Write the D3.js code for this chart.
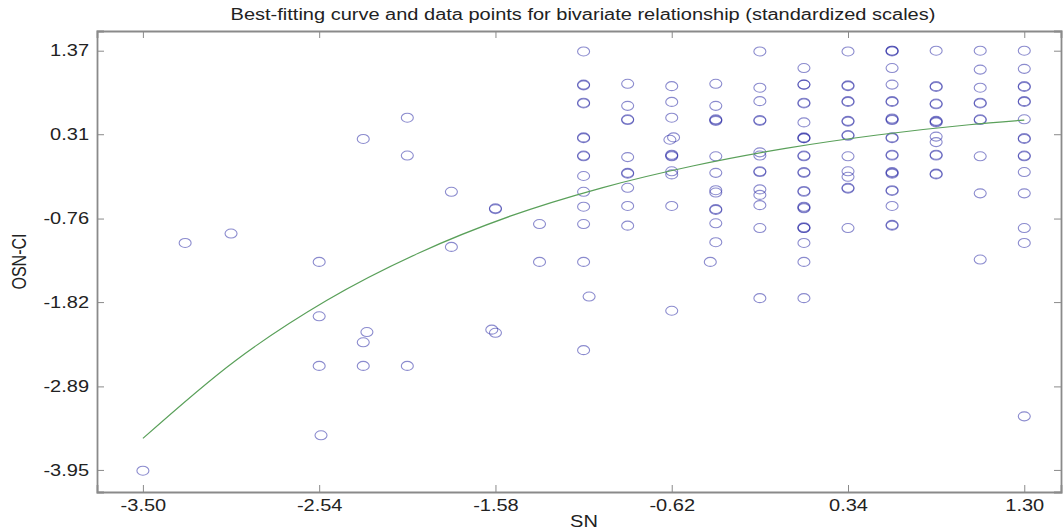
<!DOCTYPE html>
<html>
<head>
<meta charset="utf-8">
<script src="https://cdn.jsdelivr.net/npm/d3@7"></script>
<style>
  body { margin: 0; background: #fff; }
  svg { display: block; font-family: "Liberation Sans", Arial, sans-serif; }
  .axis path, .axis line { stroke: #8a8a8a; }
  .axis text { fill: #222; font-size: 16px; }
  .wide { transform-box: fill-box; transform-origin: center; transform: scaleX(1.25); }
</style>
</head>
<body>
<div id="chart"></div>
<script>
// tick values shown on the axes
const xTicks = [-3.50, -2.54, -1.58, -0.62, 0.34, 1.30]
const yTicks = [1.37, 0.31, -0.76, -1.82, -2.89, -3.95]

// data points [SN, OSN-CI], read column by column
const points = [
  [-3.50, -3.96],
  [-3.27, -1.07],
  [-3.02, -0.95],
  [-2.54, -1.31], [-2.54, -2.00], [-2.54, -2.63], [-2.53, -3.51],
  [-2.30, 0.25], [-2.28, -2.20], [-2.30, -2.33], [-2.30, -2.63],
  [-2.06, 0.52], [-2.06, 0.04], [-2.06, -2.63],
  [-1.82, -0.42], [-1.82, -1.12],
  [-1.58, -0.63], [-1.58, -0.64], [-1.60, -2.17], [-1.58, -2.21],
  [-1.34, -0.83], [-1.34, -1.31],
  [-1.10, 1.36], [-1.10, 0.94], [-1.10, 0.93], [-1.10, 0.71], [-1.10, 0.70],
  [-1.10, 0.27], [-1.10, 0.26], [-1.10, 0.04], [-1.10, 0.03], [-1.10, -0.22],
  [-1.10, -0.42], [-1.10, -0.61], [-1.10, -0.83], [-1.10, -1.31], [-1.07, -1.75],
  [-1.10, -2.43],
  [-0.86, 0.95], [-0.86, 0.67], [-0.86, 0.50], [-0.86, 0.49], [-0.86, 0.02],
  [-0.86, -0.19], [-0.86, -0.18], [-0.86, -0.37], [-0.86, -0.60], [-0.86, -0.85],
  [-0.62, 0.92], [-0.62, 0.72], [-0.62, 0.52], [-0.63, 0.24], [-0.61, 0.27],
  [-0.62, 0.04], [-0.62, 0.03], [-0.62, 0.05], [-0.62, -0.16], [-0.62, -0.20],
  [-0.62, -0.60], [-0.62, -1.93],
  [-0.38, 0.95], [-0.38, 0.67], [-0.38, 0.49], [-0.38, 0.48], [-0.38, 0.50],
  [-0.38, 0.03], [-0.38, -0.18], [-0.38, -0.40], [-0.38, -0.43], [-0.38, -0.64],
  [-0.38, -0.65], [-0.38, -0.82], [-0.38, -1.06], [-0.41, -1.31],
  [-0.14, 1.36], [-0.14, 0.90], [-0.14, 0.73], [-0.14, 0.49], [-0.14, 0.48],
  [-0.14, 0.08], [-0.14, 0.04], [-0.14, -0.16], [-0.14, -0.17], [-0.14, -0.39],
  [-0.14, -0.46], [-0.14, -0.59], [-0.14, -0.88], [-0.14, -1.77],
  [0.10, 1.15], [0.10, 0.94], [0.10, 0.94], [0.10, 0.71], [0.10, 0.70],
  [0.10, 0.46], [0.10, 0.26], [0.10, 0.26], [0.10, 0.27], [0.10, 0.04],
  [0.10, 0.03], [0.10, -0.17], [0.10, -0.18], [0.10, -0.41], [0.10, -0.42],
  [0.10, -0.63], [0.10, -0.62], [0.10, -0.61], [0.10, -0.88], [0.10, -0.88],
  [0.10, -0.87], [0.10, -1.07], [0.10, -1.31], [0.10, -1.77],
  [0.34, 1.36], [0.34, 0.93], [0.34, 0.92], [0.34, 0.73], [0.34, 0.72],
  [0.34, 0.47], [0.34, 0.48], [0.34, 0.30], [0.34, 0.29], [0.34, 0.03],
  [0.34, -0.16], [0.34, -0.23], [0.34, -0.37], [0.34, -0.38], [0.34, -0.88],
  [0.58, 1.37], [0.58, 1.37], [0.58, 1.36], [0.58, 1.15], [0.58, 0.94],
  [0.58, 0.73], [0.58, 0.72], [0.58, 0.50], [0.58, 0.49], [0.58, 0.51],
  [0.58, 0.27], [0.58, 0.26], [0.58, 0.04], [0.58, 0.05], [0.58, -0.18],
  [0.58, -0.17], [0.58, -0.19], [0.58, -0.40], [0.58, -0.41], [0.58, -0.60],
  [0.58, -0.84], [0.58, -0.85],
  [0.82, 1.37], [0.82, 0.92], [0.82, 0.91], [0.82, 0.70], [0.82, 0.69],
  [0.82, 0.47], [0.82, 0.46], [0.82, 0.48], [0.82, 0.28], [0.82, 0.21],
  [0.82, 0.04], [0.82, 0.05], [0.82, -0.19], [0.82, -0.20],
  [1.06, 1.37], [1.06, 1.13], [1.06, 0.90], [1.06, 0.70], [1.06, 0.71],
  [1.06, 0.50], [1.06, 0.49], [1.06, 0.03], [1.06, -0.44], [1.06, -1.28],
  [1.30, 1.37], [1.30, 1.14], [1.30, 0.92], [1.30, 0.91], [1.30, 0.73],
  [1.30, 0.72], [1.30, 0.50], [1.30, 0.25], [1.30, 0.26], [1.30, 0.03],
  [1.30, 0.04], [1.30, -0.17], [1.30, -0.44], [1.30, -0.88], [1.30, -1.07],
  [1.30, -3.27]
]

// best-fitting curve at even steps
const curveSN = [-3.50, -3.00, -2.50, -2.00, -1.50, -1.00, -0.50, 0.00, 0.50, 1.00, 1.30]
const curveOSN = [-3.55, -2.57, -1.80, -1.20, -0.73, -0.37, -0.09, 0.13, 0.30, 0.43, 0.49]

const width = 1063
const height = 531
const margin = {top: 31, right: 2, bottom: 39, left: 97}

const x = d3.scaleLinear()
  .domain([-3.75, 1.50])
  .range([margin.left, width - margin.right])

const y = d3.scaleLinear()
  .domain([-4.23, 1.62])
  .range([height - margin.bottom, margin.top])

// plain hyphen for the minus sign, as in the original
const fmt = d => d.toFixed(2)

const svg = d3.select("#chart").append("svg")
  .attr("width", width)
  .attr("height", height)

const plotW = width - margin.right - margin.left
const plotH = height - margin.bottom - margin.top

// axes, MATLAB style: ticks pointing inward on all four sides
svg.append("g")
  .attr("class", "axis")
  .attr("transform", `translate(0,${height - margin.bottom})`)
  .call(d3.axisBottom(x).tickValues(xTicks).tickFormat(fmt).tickSize(-7).tickPadding(8))

svg.append("g")
  .attr("class", "axis")
  .attr("transform", `translate(0,${margin.top})`)
  .call(d3.axisTop(x).tickValues(xTicks).tickFormat("").tickSize(-7))

svg.append("g")
  .attr("class", "axis y-left")
  .attr("transform", `translate(${margin.left},0)`)
  .call(d3.axisLeft(y).tickValues(yTicks).tickFormat(fmt).tickSize(-7).tickPadding(8))

svg.append("g")
  .attr("class", "axis")
  .attr("transform", `translate(${width - margin.right},0)`)
  .call(d3.axisRight(y).tickValues(yTicks).tickFormat("").tickSize(-7))

svg.selectAll(".axis .domain")
  .attr("stroke-width", 1.8)
svg.selectAll(".axis text").classed("wide", true)
// stretch the left labels from their right edge so they keep hugging the axis
svg.selectAll(".y-left text").style("transform-origin", "right center")

// points
svg.append("g")
  .selectAll("ellipse")
  .data(points)
  .join("ellipse")
    .attr("cx", d => x(d[0]))
    .attr("cy", d => y(d[1]))
    .attr("rx", 6)
    .attr("ry", 4.5)
    .attr("fill", "none")
    .attr("stroke", "#2c2ca6")
    .attr("stroke-opacity", 0.55)
    .attr("stroke-width", 1.1)

// fitted curve
const line = d3.line()
  .x((d, i) => x(curveSN[i]))
  .y(d => y(d))
  .curve(d3.curveMonotoneX)

svg.append("path")
  .datum(curveOSN)
  .attr("d", line)
  .attr("fill", "none")
  .attr("stroke", "#5aa05a")
  .attr("stroke-width", 1.2)

// labels
svg.append("text")
  .attr("class", "wide")
  .attr("x", margin.left + plotW / 2 + 4)
  .attr("y", 20)
  .attr("text-anchor", "middle")
  .attr("font-size", 16)
  .attr("fill", "#222")
  .text("Best-fitting curve and data points for bivariate relationship (standardized scales)")

svg.append("text")
  .attr("class", "wide")
  .attr("x", margin.left + plotW / 2 + 5)
  .attr("y", 527)
  .attr("text-anchor", "middle")
  .attr("font-size", 16)
  .attr("fill", "#222")
  .text("SN")

svg.append("text")
  .attr("transform", `translate(26,${margin.top + plotH / 2}) rotate(-90) scale(1,1.25)`)
  .attr("text-anchor", "middle")
  .attr("font-size", 16)
  .attr("fill", "#222")
  .text("OSN-CI")
</script>
</body>
</html>
